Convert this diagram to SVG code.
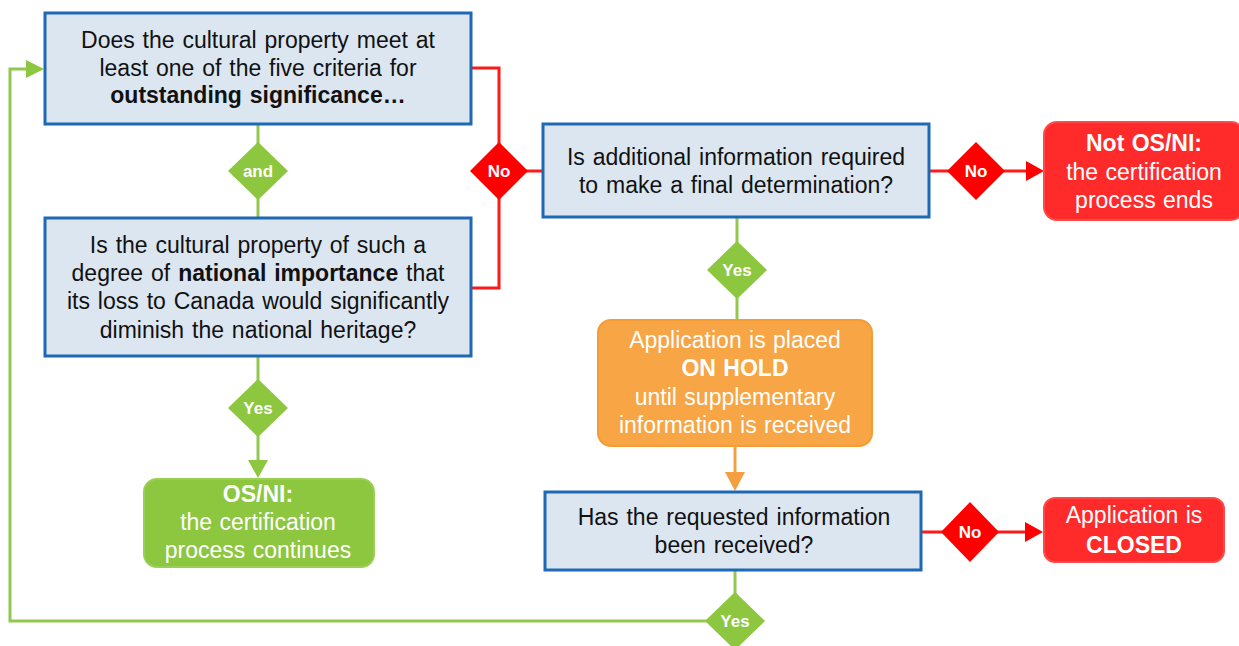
<svg xmlns="http://www.w3.org/2000/svg" width="1239" height="646" viewBox="0 0 1239 646">
<style>
.q{fill:#DCE6F1;stroke:#1F69B4;stroke-width:3}
.t{font-family:"Liberation Sans",Arial,sans-serif;font-size:23px;word-spacing:1.5px;fill:#111;text-anchor:middle}
.w{font-family:"Liberation Sans",Arial,sans-serif;font-size:23px;word-spacing:1px;fill:#fff;text-anchor:middle}
.b{font-weight:bold}
.dl{font-family:"Liberation Sans",Arial,sans-serif;font-size:17px;font-weight:bold;fill:#fff;text-anchor:middle}
.gd{fill:#8DC63F}
.rd{fill:#FF0000}
.gl{fill:none;stroke:#92C850;stroke-width:3}
.rl{fill:none;stroke:#FF1A1A;stroke-width:3}
.ol{fill:none;stroke:#F5A040;stroke-width:3}
</style>
<g id="connectors">
<polyline class="gl" points="258,124 258,218"/>
<polyline class="gl" points="258,356 258,462"/>
<polygon points="248,460 268,460 258,478" fill="#8DC63F"/>
<polyline class="rl" points="471,68 499,68 499,288 471,288"/>
<polyline class="rl" points="499,171 543,171"/>
<polyline class="rl" points="929,171 1028,171"/>
<polygon points="1026,161 1026,181 1044,171" fill="#FF0000"/>
<polyline class="gl" points="737,218 737,319"/>
<polyline class="ol" points="735,447 735,474"/>
<polygon points="725,472 745,472 735,491" fill="#F5A040"/>
<polyline class="rl" points="921,532 1027,532"/>
<polygon points="1025,522 1025,542 1043,532" fill="#FF0000"/>
<polyline class="gl" points="735,570 735,621 10,621 10,69 28,69"/>
<polygon points="26,60 26,78 44,69" fill="#8DC63F"/>
</g>
<g id="q1">
<rect class="q" x="45" y="13" width="426" height="111"/>
<text class="t" x="258" y="48">Does the cultural property meet at</text>
<text class="t" x="258" y="76">least one of the five criteria for</text>
<text class="t b" x="258" y="103">outstanding significance…</text>
</g>
<g id="and">
<polygon class="gd" points="258,142 288,171 258,200 228,171"/>
<text class="dl" x="258" y="177">and</text>
</g>
<g id="q2">
<rect class="q" x="45" y="218" width="426" height="138"/>
<text class="t" x="258" y="253">Is the cultural property of such a</text>
<text class="t" x="258" y="281">degree of <tspan class="b">national importance</tspan> that</text>
<text class="t" x="258" y="309">its loss to Canada would significantly</text>
<text class="t" x="258" y="338">diminish the national heritage?</text>
</g>
<g id="no1">
<polygon class="rd" points="499,142 528,171 499,200 470,171"/>
<text class="dl" x="499" y="177">No</text>
</g>
<g id="yes1">
<polygon class="gd" points="258,379 288,408 258,437 228,408"/>
<text class="dl" x="258" y="414">Yes</text>
</g>
<g id="osni">
<rect x="144" y="479" width="230" height="88" rx="13" fill="#8DC63F" stroke="#9ACF55" stroke-width="2"/>
<text class="w b" x="258" y="502">OS/NI:</text>
<text class="w" x="258" y="530">the certification</text>
<text class="w" x="258" y="558">process continues</text>
</g>
<g id="q3">
<rect class="q" x="543" y="124" width="386" height="93"/>
<text class="t" x="736" y="165">Is additional information required</text>
<text class="t" x="736" y="193">to make a final determination?</text>
</g>
<g id="no2">
<polygon class="rd" points="976,142 1005,171 976,200 947,171"/>
<text class="dl" x="976" y="177">No</text>
</g>
<g id="notosni">
<rect x="1044" y="122" width="200" height="98" rx="13" fill="#FF2A2A" stroke="#FF4A4A" stroke-width="2"/>
<text class="w b" x="1144" y="151">Not OS/NI:</text>
<text class="w" x="1144" y="180">the certification</text>
<text class="w" x="1144" y="208">process ends</text>
</g>
<g id="yes2">
<polygon class="gd" points="737,241 767,270 737,299 707,270"/>
<text class="dl" x="737" y="276">Yes</text>
</g>
<g id="hold">
<rect x="598" y="320" width="274" height="126" rx="13" fill="#F7A545" stroke="#F59C37" stroke-width="2"/>
<text class="w" x="735" y="348">Application is placed</text>
<text class="w b" x="735" y="376">ON HOLD</text>
<text class="w" x="735" y="405">until supplementary</text>
<text class="w" x="735" y="433">information is received</text>
</g>
<g id="q4">
<rect class="q" x="545" y="492" width="376" height="78"/>
<text class="t" x="734" y="525">Has the requested information</text>
<text class="t" x="734" y="553">been received?</text>
</g>
<g id="no3">
<polygon class="rd" points="970,502 999,532 970,562 941,532"/>
<text class="dl" x="970" y="538">No</text>
</g>
<g id="closed">
<rect x="1044" y="498" width="180" height="64" rx="11" fill="#FF2A2A" stroke="#FF4A4A" stroke-width="2"/>
<text class="w" x="1134" y="523">Application is</text>
<text class="w b" x="1134" y="553">CLOSED</text>
</g>
<g id="yes3">
<polygon class="gd" points="735,592 765,621 735,650 705,621"/>
<text class="dl" x="735" y="627">Yes</text>
</g>
</svg>
